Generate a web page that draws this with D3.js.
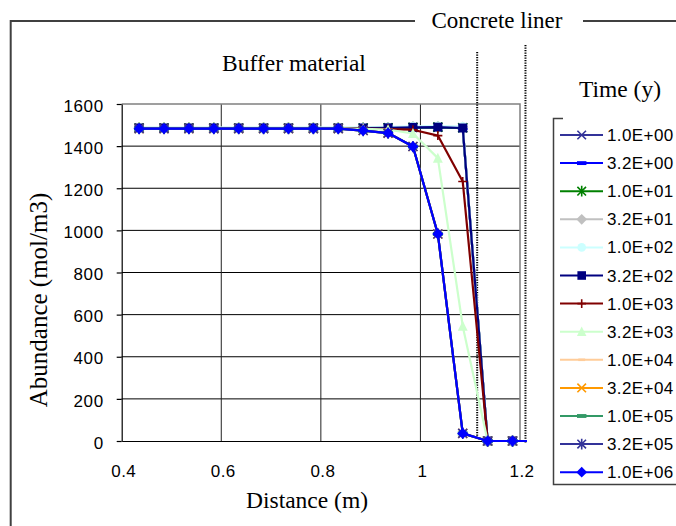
<!DOCTYPE html>
<html>
<head>
<meta charset="utf-8">
<script src="https://cdn.jsdelivr.net/npm/d3@7"></script>
<style>
  html, body { margin: 0; padding: 0; background: #fff; }
  svg { display: block; }
  .serif { font-family: "Liberation Serif", "Times New Roman", serif; fill: #000; }
  .sans { font-family: "Liberation Sans", Arial, sans-serif; fill: #000; }
</style>
</head>
<body>
<svg id="chart" width="676" height="526"></svg>
<script>
// Distance from the canister centre (m) at which abundance was evaluated
const distance = [0.435, 0.485, 0.535, 0.585, 0.635, 0.685, 0.735, 0.785, 0.835,
                  0.885, 0.935, 0.985, 1.035, 1.085, 1.135, 1.185, 1.235];

// Abundance (mol/m3) for each elapsed time
const t1e00  = [1486, 1486, 1486, 1486, 1486, 1486, 1486, 1486, 1486, 1486, 1487, 1489, 1490, 1487, 0, 0, 0];
const t32e00 = [1486, 1486, 1486, 1486, 1486, 1486, 1486, 1486, 1486, 1486, 1487, 1489, 1490, 1487, 0, 0, 0];
const t1e01  = [1486, 1486, 1486, 1486, 1486, 1486, 1486, 1486, 1486, 1486, 1487, 1489, 1490, 1487, 0, 0, 0];
const t32e01 = [1487, 1487, 1487, 1487, 1487, 1487, 1487, 1487, 1487, 1487, 1488, 1491, 1493, 1490, 0, 0, 0];
const t1e02  = [1488, 1488, 1488, 1488, 1488, 1488, 1488, 1488, 1488, 1489, 1491, 1494, 1495, 1493, 0, 0, 0];
const t32e02 = [1486, 1486, 1486, 1486, 1486, 1486, 1486, 1486, 1486, 1486, 1487, 1489, 1490, 1486, 0, 0, 0];
const t1e03  = [1484, 1484, 1484, 1484, 1484, 1484, 1484, 1484, 1484, 1483, 1481, 1478, 1450, 1232, 0, 0, 0];
const t32e03 = [1484, 1484, 1484, 1484, 1484, 1484, 1484, 1484, 1484, 1482, 1478, 1460, 1343, 545, 0, 0, 0];
const t1e04  = [1483, 1483, 1483, 1483, 1483, 1483, 1483, 1483, 1483, 1474, 1462, 1398, 983, 36, 0, 0, 0];
const t32e04 = [1483, 1483, 1483, 1483, 1483, 1483, 1483, 1483, 1483, 1474, 1462, 1398, 983, 36, 0, 0, 0];
const t1e05  = [1483, 1483, 1483, 1483, 1483, 1483, 1483, 1483, 1483, 1474, 1462, 1398, 983, 36, 0, 0, 0];
const t32e05 = [1483, 1483, 1483, 1483, 1483, 1483, 1483, 1483, 1483, 1474, 1462, 1398, 983, 36, 0, 0, 0];
const t1e06  = [1483, 1483, 1483, 1483, 1483, 1483, 1483, 1483, 1483, 1474, 1462, 1398, 983, 36, 0, 0, 0];

const timeLabels = ["1.0E+00", "3.2E+00", "1.0E+01", "3.2E+01", "1.0E+02", "3.2E+02", "1.0E+03",
                    "3.2E+03", "1.0E+04", "3.2E+04", "1.0E+05", "3.2E+05", "1.0E+06"];
const seriesValues = [t1e00, t32e00, t1e01, t32e01, t1e02, t32e02, t1e03,
                      t32e03, t1e04, t32e04, t1e05, t32e05, t1e06];

const xTicks = [0.4, 0.6, 0.8, 1.0, 1.2];
const yTicks = [0, 200, 400, 600, 800, 1000, 1200, 1400, 1600];

// Boundaries of the concrete liner (m)
const linerBounds = [1.114, 1.211];

// Styling per series: colour and marker shape
const styles = [
  { color: "#333399", marker: "x" },
  { color: "#0000ff", marker: "bar" },
  { color: "#008000", marker: "star" },
  { color: "#c0c0c0", marker: "diamond" },
  { color: "#ccffff", marker: "circle" },
  { color: "#000080", marker: "square" },
  { color: "#800000", marker: "plus" },
  { color: "#ccffcc", marker: "triangle" },
  { color: "#ffcc99", marker: "dash" },
  { color: "#ff9900", marker: "x" },
  { color: "#339966", marker: "bar" },
  { color: "#333399", marker: "star" },
  { color: "#0000ff", marker: "diamond" }
];

const svg = d3.select("#chart");

const plot = { left: 121.7, right: 520, top: 104, bottom: 441 };
const x = d3.scaleLinear().domain([0.4, 1.2]).range([plot.left, plot.right]);
const y = d3.scaleLinear().domain([0, 1600]).range([plot.bottom, plot.top]);

// Outer frame (left and top edges) around the chart
const frame = svg.append("g").attr("stroke", "#404040").attr("stroke-width", 2).attr("fill", "none");
frame.append("path").attr("d", "M10.7,526 V21 H415");
frame.append("path").attr("d", "M583,21 H676");

svg.append("text").attr("class", "serif").attr("x", 497).attr("y", 27.5)
  .attr("text-anchor", "middle").attr("font-size", 23).text("Concrete liner");
svg.append("text").attr("class", "serif").attr("x", 294).attr("y", 71)
  .attr("text-anchor", "middle").attr("font-size", 23.5).text("Buffer material");

// Grid lines
const grid = svg.append("g");
grid.selectAll("line.h").data(yTicks.filter(v => v > 0 && v < 1600)).join("line")
  .attr("x1", plot.left).attr("x2", plot.right)
  .attr("y1", d => y(d)).attr("y2", d => y(d))
  .attr("stroke", "#000").attr("stroke-width", 1);
grid.selectAll("line.v").data(xTicks.filter(v => v > 0.4 && v < 1.2)).join("line")
  .attr("x1", d => x(d)).attr("x2", d => x(d))
  .attr("y1", plot.top).attr("y2", plot.bottom)
  .attr("stroke", "#222").attr("stroke-width", 1);

// Plot border (top and right)
svg.append("path")
  .attr("d", `M${plot.left},${plot.top} H${plot.right} V${plot.bottom}`)
  .attr("fill", "none").attr("stroke", "#808080").attr("stroke-width", 1.5);

// Liner boundaries
svg.append("line").attr("x1", x(linerBounds[0])).attr("x2", x(linerBounds[0]))
  .attr("y1", 52).attr("y2", plot.bottom - 2)
  .attr("stroke", "#000").attr("stroke-width", 2).attr("stroke-dasharray", "1.2,1.3");
svg.append("line").attr("x1", x(linerBounds[1])).attr("x2", x(linerBounds[1]))
  .attr("y1", 45).attr("y2", plot.bottom + 2)
  .attr("stroke", "#000").attr("stroke-width", 2).attr("stroke-dasharray", "1.2,1.3");

// Axes
const yAxis = svg.append("g").attr("transform", `translate(${plot.left},0)`)
  .call(d3.axisLeft(y).tickValues(yTicks).tickSize(5).tickSizeOuter(0).tickPadding(13).tickFormat(d3.format("d")));
yAxis.select(".domain").attr("stroke", "#000").attr("stroke-width", 1.2);
yAxis.selectAll(".tick line").attr("stroke", "#000").attr("stroke-width", 1.2);
yAxis.selectAll(".tick text").attr("class", "sans").attr("font-size", 17)
  .attr("font-family", "'Liberation Sans', Arial, sans-serif")
  .attr("letter-spacing", 0.6).attr("dy", "0.42em");

const xAxis = svg.append("g").attr("transform", `translate(0,${plot.bottom})`)
  .call(d3.axisBottom(x).tickValues(xTicks).tickSize(0).tickSizeOuter(0).tickFormat(d => d3.format("")(d)));
xAxis.select(".domain").attr("stroke", "#000").attr("stroke-width", 1.2);
xAxis.selectAll(".tick text").attr("class", "sans").attr("font-size", 17)
  .attr("font-family", "'Liberation Sans', Arial, sans-serif")
  .attr("letter-spacing", 0.4).attr("y", 36).attr("dy", 0).attr("dx", 1.5);

svg.append("text").attr("class", "serif").attr("x", 307).attr("y", 508)
  .attr("text-anchor", "middle").attr("font-size", 23.5).text("Distance (m)");
svg.append("text").attr("class", "serif")
  .attr("transform", "translate(47,300) rotate(-90)")
  .attr("text-anchor", "middle").attr("font-size", 25).text("Abundance (mol/m3)");

// Marker drawing
function drawMarker(sel, type, color, s) {
  const strokeOnly = { x: 1, plus: 1, star: 1 };
  let d;
  switch (type) {
    case "x": d = `M${-s},${-s}L${s},${s}M${-s},${s}L${s},${-s}`; break;
    case "plus": d = `M${-s},0H${s}M0,${-s}V${s}`; break;
    case "star": d = `M${-s},${-s}L${s},${s}M${-s},${s}L${s},${-s}M0,${-s * 1.25}V${s * 1.25}`; break;
    case "diamond": d = `M0,${-s * 1.25}L${s * 1.25},0L0,${s * 1.25}L${-s * 1.25},0Z`; break;
    case "square": d = `M${-s},${-s}H${s}V${s}H${-s}Z`; break;
    case "triangle": d = `M0,${-s * 1.2}L${s * 1.1},${s}L${-s * 1.1},${s}Z`; break;
    case "bar": d = `M${-s * 1.1},${-s * 0.45}H${s * 1.1}V${s * 0.45}H${-s * 1.1}Z`; break;
    case "dash": d = `M${-s * 0.8},${-s * 0.3}H${s * 0.8}V${s * 0.3}H${-s * 0.8}Z`; break;
  }
  if (type === "circle") {
    sel.append("circle").attr("r", s).attr("fill", color);
  } else if (strokeOnly[type]) {
    sel.append("path").attr("d", d).attr("fill", "none").attr("stroke", color).attr("stroke-width", 1.6);
  } else {
    sel.append("path").attr("d", d).attr("fill", color);
  }
}

// Series lines and markers, clipped just past the plot's right edge
svg.append("clipPath").attr("id", "plotClip").append("rect")
  .attr("x", 0).attr("y", 0).attr("width", x(1.2) + 7).attr("height", 526);

const line = d3.line().x((d, i) => x(distance[i])).y(d => y(d));
const seriesG = svg.append("g").attr("clip-path", "url(#plotClip)");
seriesValues.forEach((vals, si) => {
  const st = styles[si];
  const g = seriesG.append("g");
  g.append("path").datum(vals).attr("d", line)
    .attr("fill", "none").attr("stroke", st.color).attr("stroke-width", 2.2)
    .attr("stroke-linejoin", "round");
  vals.forEach((v, i) => {
    if (distance[i] > 1.2) return;
    const m = g.append("g").attr("transform", `translate(${x(distance[i])},${y(v)})`);
    drawMarker(m, st.marker, st.color, 4.5);
  });
});

// Legend
svg.append("text").attr("class", "serif").attr("x", 620).attr("y", 97)
  .attr("text-anchor", "middle").attr("font-size", 23.5).text("Time (y)");
svg.append("path").attr("d", "M563,118.5 H553.5 V484.5 H676")
  .attr("fill", "none").attr("stroke", "#404040").attr("stroke-width", 1.5);
const legend = svg.append("g");
timeLabels.forEach((lab, i) => {
  const yy = 135 + i * 28.1;
  const st = styles[i];
  const row = legend.append("g").attr("transform", `translate(0,${yy})`);
  row.append("line").attr("x1", 560).attr("x2", 603).attr("y1", 0).attr("y2", 0)
    .attr("stroke", st.color).attr("stroke-width", 2);
  const m = row.append("g").attr("transform", "translate(581.7,0)");
  drawMarker(m, st.marker, st.color, 4.3);
  row.append("text").attr("class", "sans").attr("x", 607).attr("y", 6)
    .attr("font-size", 17).attr("letter-spacing", 0.4).text(lab);
});
</script>
</body>
</html>
